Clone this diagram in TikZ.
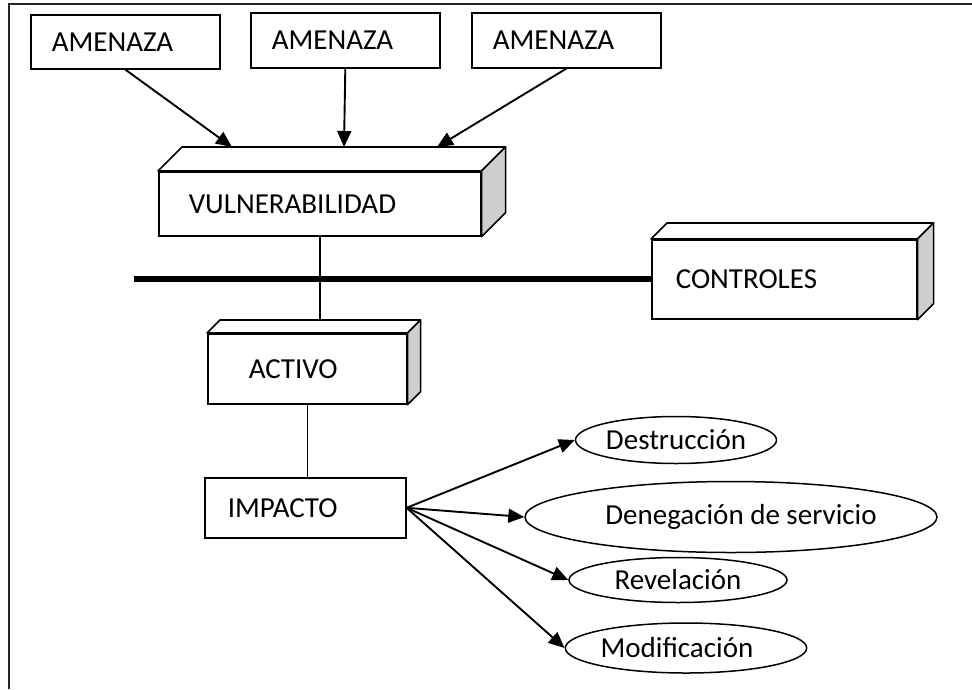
\documentclass[tikz,border=0pt]{standalone}
\usepackage{fontspec}
\setmainfont{Carlito}
\usetikzlibrary{arrows.meta,shapes.geometric,calc}
\definecolor{sidegray}{RGB}{206,206,206}
\newcommand{\threedfaces}[2]{%
  \draw[line width=1.6pt,fill=white,line join=round] (#1.north west) -- ++(#2,-#2) -- ($(#1.north east)+(#2,-#2)$) -- (#1.north east) -- cycle;
  \draw[line width=1.6pt,fill=sidegray,line join=round] (#1.north east) -- ++(#2,-#2) -- ($(#1.south east)+(#2,-#2)$) -- (#1.south east) -- cycle;
}
\begin{document}
\begin{tikzpicture}[x=1pt,y=-1pt,
  every node/.style={font=\fontsize{29}{34}\selectfont},
  boxsty/.style={draw,line width=1.6pt,fill=white,anchor=north west,inner ysep=0pt,align=left},
  ell/.style={draw,ellipse,line width=1.5pt,inner sep=0pt},
  arr/.style={line width=1.9pt,-{Triangle[length=16pt,width=14pt]}},
  conn/.style={line width=1.4pt}
]
\useasboundingbox (0,0) rectangle (972,689);
% frame
\coordinate (fr1) at (9,689);
\coordinate (fr2) at (9,4);
\coordinate (fr3) at (972,4);
\draw[line width=2pt,black!85] (fr1) -- (fr2) -- (fr3);

% threats
\node[boxsty,minimum width=189pt,minimum height=54pt,inner xsep=21pt,text width=147pt] (am1) at (30,14) {AMENAZA};
\node[boxsty,minimum width=189pt,minimum height=55pt,inner xsep=21pt,text width=147pt] (am2) at (250,12) {AMENAZA};
\node[boxsty,minimum width=189pt,minimum height=55pt,inner xsep=21pt,text width=147pt] (am3) at (471,12) {AMENAZA};

% vulnerability
\node[boxsty,minimum width=322pt,minimum height=64pt,inner xsep=30pt,text width=262pt] (vul) at (158,171) {\raisebox{-3pt}{VULNERABILIDAD}};
\threedfaces{vul}{24}

\coordinate (t1) at (232,147);
\coordinate (t2) at (344,147);
\coordinate (t3) at (437,147);
\draw[arr] (am1.south) -- (t1);
\draw[arr] (am2.south) -- (t2);
\draw[arr] (am3.south) -- (t3);

% controls
\node[boxsty,minimum width=265pt,minimum height=79pt,inner xsep=24pt,text width=217pt] (ctl) at (651,239) {CONTROLES};
\threedfaces{ctl}{16}
\coordinate (bar) at (134,279);
\draw[line width=5.5pt] (bar) -- (bar -| ctl.west);

% asset
\node[boxsty,minimum width=199pt,minimum height=70pt,inner xsep=41pt,text width=117pt] (act) at (207,333) {ACTIVO};
\threedfaces{act}{13}

\coordinate (va) at (320,235);
\coordinate (vb) at (320,319);
\draw[conn] (va) -- (vb);

% impact
\node[boxsty,minimum width=201pt,minimum height=60pt,inner xsep=23pt,text width=155pt] (imp) at (204,477) {IMPACTO};
\draw[conn] (act.south) -- (act.south |- imp.north);

% consequences
\node[ell,minimum width=201pt,minimum height=47pt] (e1) at (676,440) {Destrucción};
\node[ell,minimum width=331pt,minimum height=71pt] (e2) at (731,517) {\hspace*{20pt}Denegación de servicio};
\node[ell,minimum width=218pt,minimum height=45pt] (e3) at (678,580) {Revelación};
\node[ell,minimum width=226pt,minimum height=50pt] (e4) at (686,648) {Modificación\hspace*{18pt}};

\draw[arr] (imp.east) -- (e1.west);
\draw[arr] (imp.east) -- (e2.west);
\draw[arr] (imp.east) -- (e3.west);
\draw[arr] (imp.east) -- (e4.west);
\end{tikzpicture}
\end{document}
